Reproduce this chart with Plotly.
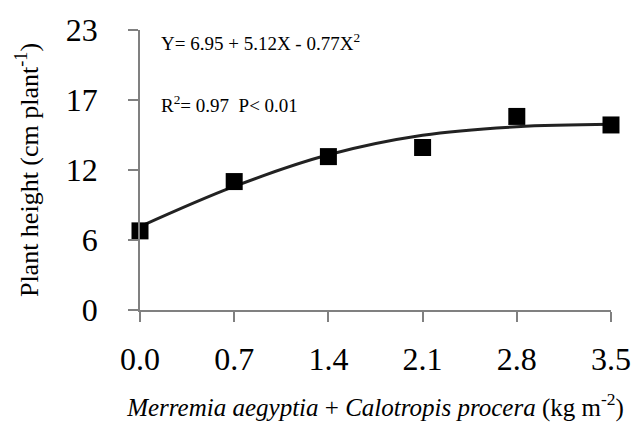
import plotly.graph_objects as go

# Data
doses = [0.0, 0.7, 1.4, 2.1, 2.8, 3.5]
height = [6.5, 10.55, 12.6, 13.35, 15.9, 15.2]
# fitted trend curve values at the same doses
curve = [6.85, 10.15, 12.75, 14.35, 15.05, 15.25]

x_ticks = [0.0, 0.7, 1.4, 2.1, 2.8, 3.5]
x_tick_text = ["0.0", "0.7", "1.4", "2.1", "2.8", "3.5"]
y_ticks = [0, 5.75, 11.5, 17.25, 23]
y_tick_text = ["0", "6", "12", "17", "23"]

SERIF = "Liberation Serif"

fig = go.Figure()
fig.add_trace(go.Scatter(x=doses, y=curve, mode="lines",
                         line=dict(color="#222222", width=3, shape="spline", smoothing=1.0),
                         hoverinfo="skip", showlegend=False, cliponaxis=False))
fig.add_trace(go.Scatter(x=doses, y=height, mode="markers",
                         marker=dict(symbol="square", size=17, color="black"),
                         showlegend=False, cliponaxis=False))

fig.update_layout(
    width=643, height=430,
    margin=dict(l=140, r=22, t=27, b=120),
    paper_bgcolor="white", plot_bgcolor="white",
    font=dict(family=SERIF, color="black"),
    xaxis=dict(range=[0, 3.5], tickvals=x_ticks, ticktext=x_tick_text,
               showgrid=False, zeroline=False, showline=True,
               linecolor="#808080", linewidth=1.5,
               ticks="outside", ticklen=10, tickcolor="#808080", tickwidth=1.5,
               tickfont=dict(size=32, family=SERIF, color="black"),
               ticklabelstandoff=10,
               title=dict(text="<i>Merremia aegyptia</i> + <i>Calotropis procera</i> (kg m<sup>-2</sup>)",
                          font=dict(size=25, family=SERIF, color="black"), standoff=22)),
    yaxis=dict(range=[0, 23], tickvals=y_ticks, ticktext=y_tick_text,
               showgrid=False, zeroline=False, showline=True,
               linecolor="#808080", linewidth=1.5,
               ticks="outside", ticklen=10, tickcolor="#808080", tickwidth=1.5,
               tickfont=dict(size=32, family=SERIF, color="black"),
               ticklabelstandoff=24,
               title=dict(text="Plant height (cm plant<sup>-1</sup>)",
                          font=dict(size=26, family=SERIF, color="black"), standoff=20)),
    annotations=[
        dict(xref="paper", yref="paper", x=0.04, y=0.957, xanchor="left", yanchor="middle",
             text="Y= 6.95 + 5.12X - 0.77X<sup>2</sup>", showarrow=False,
             font=dict(size=19, family=SERIF, color="black")),
        dict(xref="paper", yref="paper", x=0.04, y=0.735, xanchor="left", yanchor="middle",
             text="R<sup>2</sup>= 0.97  P< 0.01", showarrow=False,
             font=dict(size=19, family=SERIF, color="black")),
    ],
)

fig.write_html("out.html", config={"displayModeBar": False},
               post_script="document.body.style.margin='0';")
